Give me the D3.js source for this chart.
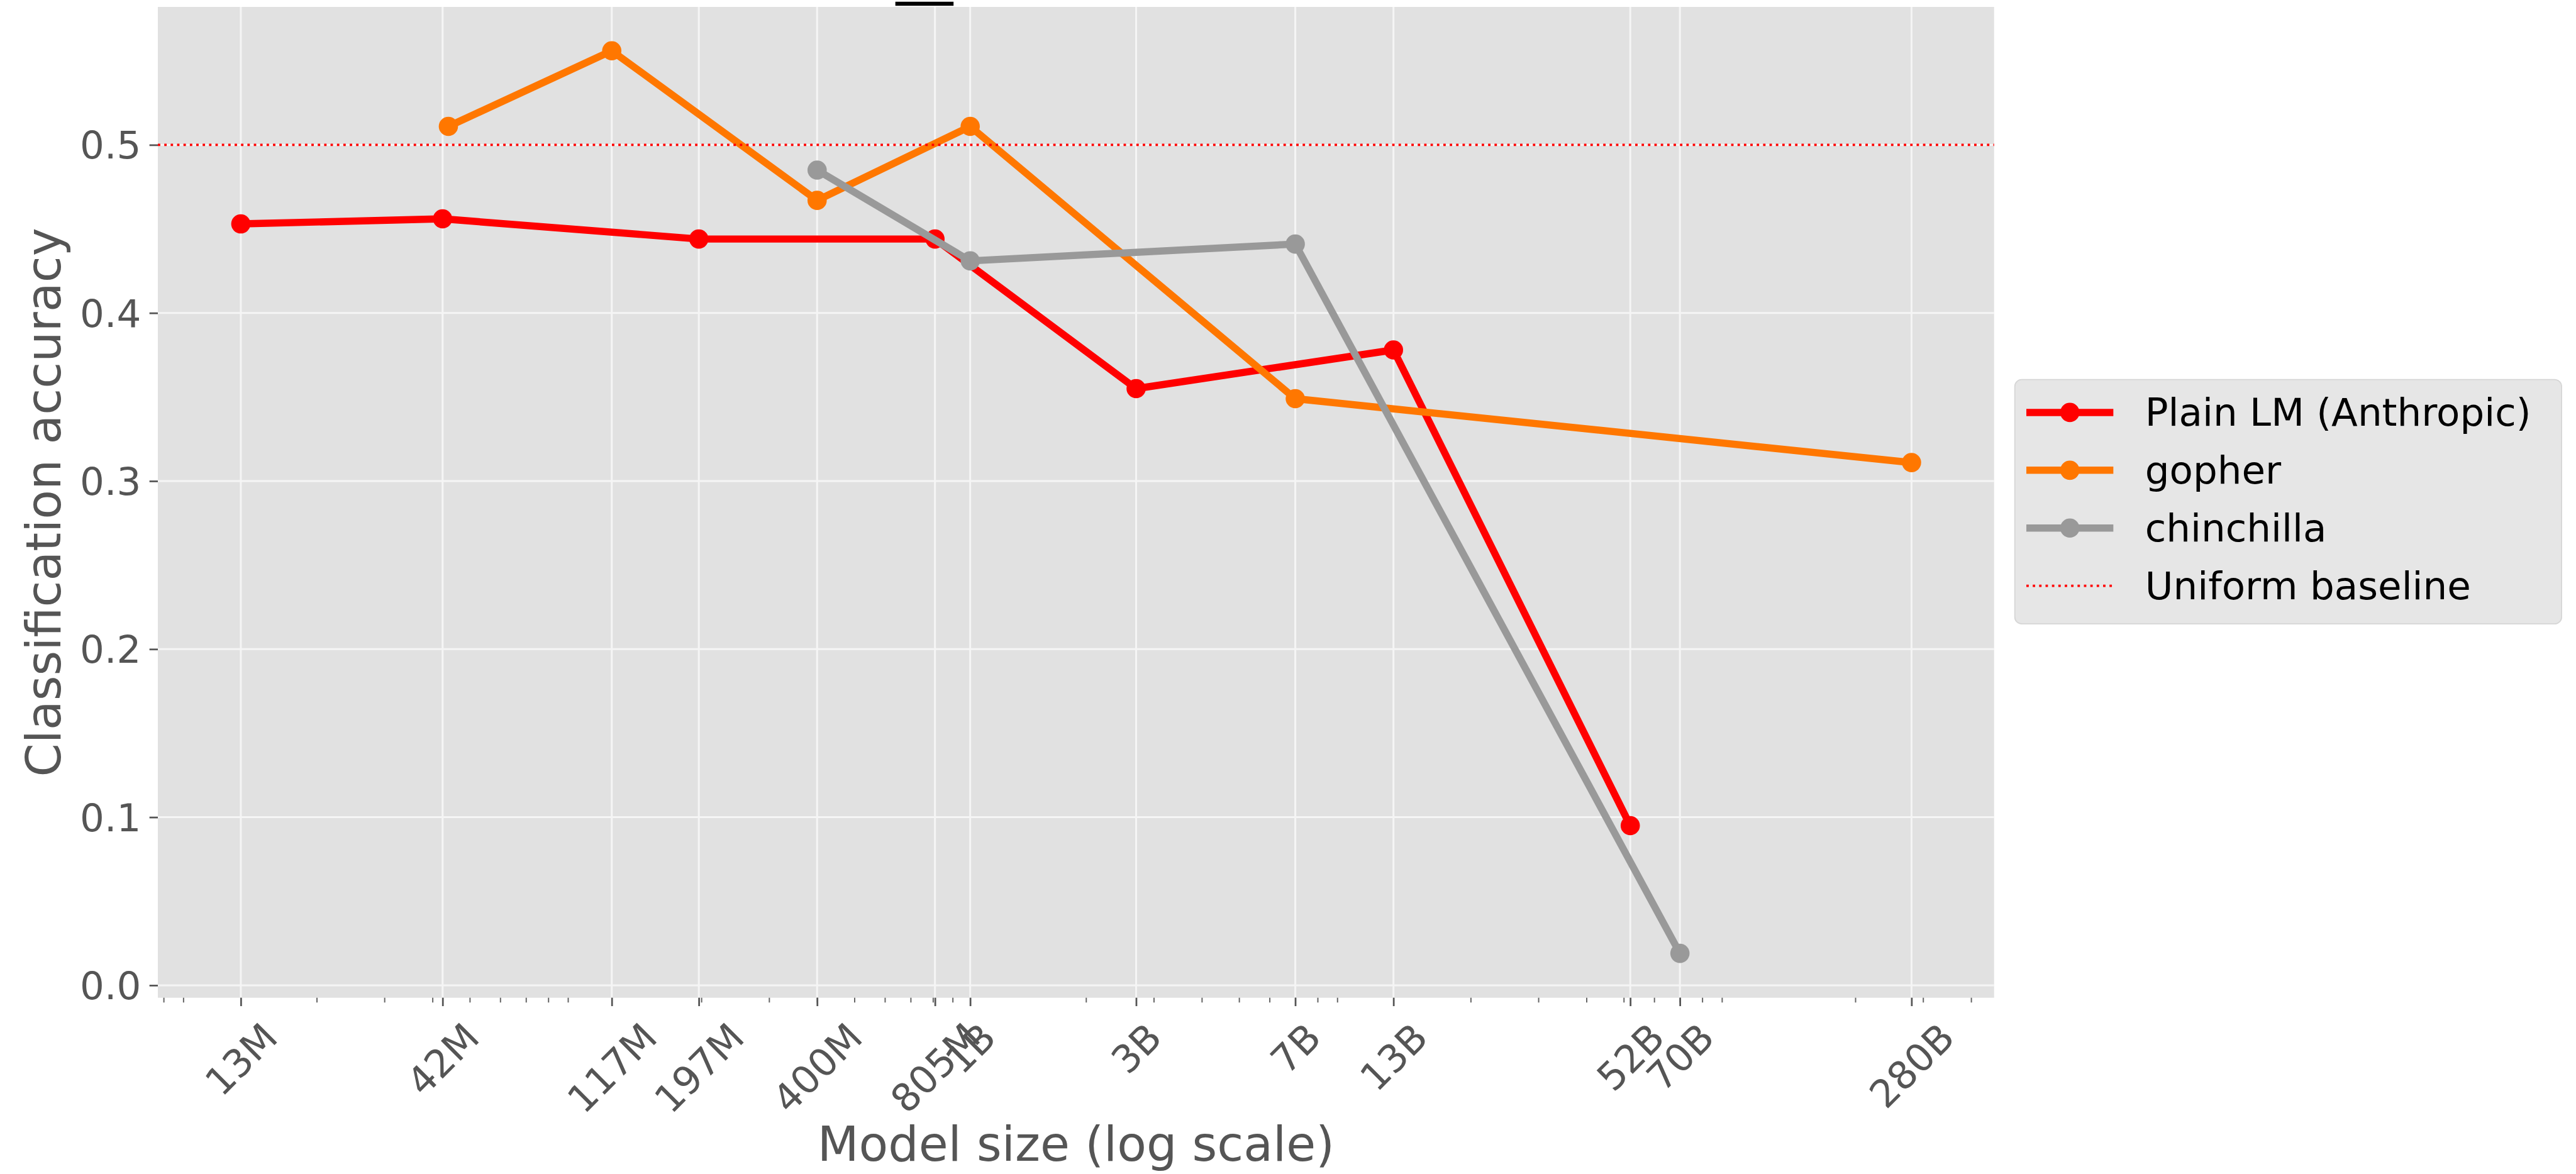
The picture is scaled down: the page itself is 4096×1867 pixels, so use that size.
<!DOCTYPE html>
<html>
<head>
<meta charset="utf-8">
<script src="https://cdn.jsdelivr.net/npm/d3@7"></script>
<style>
html, body { margin: 0; padding: 0; background: #fff; }
svg { display: block; font-family: "DejaVu Sans", sans-serif; }
</style>
</head>
<body>
<div id="chart"></div>
<script>
// model sizes (parameter count) and classification accuracy per family
var anthropicSizes = [1.27e7, 4.25e7, 1.97e8, 8.1e8, 2.7e9, 1.26e10, 5.2e10];
var anthropicAcc   = [0.453, 0.456, 0.444, 0.444, 0.355, 0.378, 0.095];

var gopherSizes = [4.4e7, 1.17e8, 4.0e8, 1.0e9, 7.0e9, 2.8e11];
var gopherAcc   = [0.511, 0.556, 0.467, 0.511, 0.349, 0.311];

var chinchillaSizes = [4.0e8, 1.0e9, 7.0e9, 7.0e10];
var chinchillaAcc   = [0.485, 0.431, 0.441, 0.019];

var baselineAcc = 0.5;

var seriesNames  = ["Plain LM (Anthropic)", "gopher", "chinchilla"];
var seriesColors = ["#ff0000", "#ff7700", "#999999"];
var baselineName = "Uniform baseline";

var xTickValues = [1.27e7, 4.25e7, 1.17e8, 1.97e8, 4.0e8, 8.1e8, 1.0e9, 2.7e9, 7.0e9, 1.26e10, 5.2e10, 7.0e10, 2.8e11];
var xTickLabels = ["13M", "42M", "117M", "197M", "400M", "805M", "1B", "3B", "7B", "13B", "52B", "70B", "280B"];
var yTickValues = [0, 0.1, 0.2, 0.3, 0.4, 0.5];

// everything is laid out in the reference's pixel space, viewBox scales it down
var W = 4471, H = 2038;
var plotL = 274, plotR = 3461, plotT = 12, plotB = 1732;
var tickFont = 66.7, labelFont = 83.3;

var svg = d3.select("#chart")
    .append("svg")
    .attr("width", 4096)
    .attr("height", 1867)
    .attr("viewBox", "0 0 " + W + " " + H)
    .attr("preserveAspectRatio", "none");

svg.append("rect").attr("width", W).attr("height", H).attr("fill", "#fff");

var x = d3.scaleLog()
    .domain([7.73e6, 4.59e11])
    .range([plotL, plotR]);

var y = d3.scaleLinear()
    .domain([-0.0074, 0.5821])
    .range([plotB, plotT]);

// plot background
svg.append("rect")
    .attr("x", plotL).attr("y", plotT)
    .attr("width", plotR - plotL).attr("height", plotB - plotT)
    .attr("fill", "#e1e1e1");

// grid
var grid = svg.append("g").attr("stroke", "#f5f5f5").attr("stroke-width", 3.3);
grid.selectAll("line.v").data(xTickValues).enter().append("line")
    .attr("class", "v")
    .attr("x1", function(d) { return x(d); }).attr("x2", function(d) { return x(d); })
    .attr("y1", plotT).attr("y2", plotB);
grid.selectAll("line.h").data(yTickValues).enter().append("line")
    .attr("class", "h")
    .attr("x1", plotL).attr("x2", plotR)
    .attr("y1", function(d) { return y(d); }).attr("y2", function(d) { return y(d); });

// minor ticks on the log axis (2..9 x 10^k)
var minorTicks = x.ticks().filter(function(d) {
    var m = Math.round(d / Math.pow(10, Math.floor(Math.log10(d) + 1e-9)));
    return m !== 1;
});

var xMinor = svg.append("g")
    .attr("transform", "translate(0," + plotB + ")")
    .call(d3.axisBottom(x).tickValues(minorTicks).tickFormat("").tickSize(8.3));
xMinor.select(".domain").remove();
xMinor.selectAll("line").attr("stroke", "#666").attr("stroke-width", 2.2);

var xAxis = svg.append("g")
    .attr("transform", "translate(0," + plotB + ")")
    .call(d3.axisBottom(x)
        .tickValues(xTickValues)
        .tickFormat(function(d, i) { return xTickLabels[i]; })
        .tickSize(14.6));
xAxis.select(".domain").remove();
xAxis.selectAll("line").attr("stroke", "#555").attr("stroke-width", 3);
xAxis.selectAll("text")
    .attr("fill", "#555")
    .attr("font-size", tickFont)
    .attr("font-family", "DejaVu Sans")
    .attr("y", null).attr("dy", null)
    .attr("text-anchor", "middle")
    .attr("dominant-baseline", "central")
    .attr("transform", function() {
        var tw = this.getComputedTextLength();
        var th = 1.164 * tickFont;
        var off = 14.6 + 14.6 + (tw + th) * Math.SQRT1_2 / 2;
        return "translate(0," + off + ") rotate(-45)";
    });

var yAxis = svg.append("g")
    .attr("transform", "translate(" + plotL + ",0)")
    .call(d3.axisLeft(y)
        .tickValues(yTickValues)
        .tickFormat(d3.format(".1f"))
        .tickSize(14.6)
        .tickPadding(14.6));
yAxis.select(".domain").remove();
yAxis.selectAll("line").attr("stroke", "#555").attr("stroke-width", 3);
yAxis.selectAll("text")
    .attr("fill", "#555")
    .attr("font-size", tickFont)
    .attr("font-family", "DejaVu Sans")
    .attr("dy", null)
    .attr("dominant-baseline", "central");

// series
var series = [
    { name: seriesNames[0], color: seriesColors[0], sizes: anthropicSizes, acc: anthropicAcc },
    { name: seriesNames[1], color: seriesColors[1], sizes: gopherSizes, acc: gopherAcc },
    { name: seriesNames[2], color: seriesColors[2], sizes: chinchillaSizes, acc: chinchillaAcc }
];

var line = d3.line()
    .x(function(d) { return x(d[0]); })
    .y(function(d) { return y(d[1]); });

var lineW = 12.5, markerR = 16.7;

series.forEach(function(s) {
    var pts = s.sizes.map(function(v, i) { return [v, s.acc[i]]; });
    var g = svg.append("g");
    g.append("path")
        .attr("d", line(pts))
        .attr("fill", "none")
        .attr("stroke", s.color)
        .attr("stroke-width", lineW)
        .attr("stroke-linejoin", "round")
        .attr("stroke-linecap", "square");
    g.selectAll("circle").data(pts).enter().append("circle")
        .attr("cx", function(d) { return x(d[0]); })
        .attr("cy", function(d) { return y(d[1]); })
        .attr("r", markerR)
        .attr("fill", s.color);
});

// uniform baseline
svg.append("line")
    .attr("x1", plotL).attr("x2", plotR)
    .attr("y1", y(baselineAcc)).attr("y2", y(baselineAcc))
    .attr("stroke", "#ff0000")
    .attr("stroke-width", 4.2)
    .attr("stroke-dasharray", "4.2,6.9");

// axis labels
svg.append("text")
    .attr("x", (plotL + plotR) / 2)
    .attr("y", 2015)
    .attr("text-anchor", "middle")
    .attr("font-size", labelFont)
    .attr("fill", "#555")
    .text("Model size (log scale)");

svg.append("text")
    .attr("transform", "translate(105," + (plotT + plotB) / 2 + ") rotate(-90)")
    .attr("text-anchor", "middle")
    .attr("font-size", labelFont)
    .attr("fill", "#555")
    .text("Classification accuracy");

// small dark bar cut off at the top edge
svg.append("rect")
    .attr("x", 1554).attr("y", 3)
    .attr("width", 101).attr("height", 7)
    .attr("fill", "#000");

// legend
var legend = svg.append("g").attr("transform", "translate(3497,659)");
legend.append("rect")
    .attr("width", 949).attr("height", 424)
    .attr("rx", 12)
    .attr("fill", "#e6e6e6")
    .attr("stroke", "#d6d6d6")
    .attr("stroke-width", 2);

var items = series.map(function(s) { return { name: s.name, color: s.color, dotted: false }; });
items.push({ name: baselineName, color: "#ff0000", dotted: true });

var rowY = d3.scalePoint().domain(d3.range(items.length)).range([57, 358]);

items.forEach(function(it, i) {
    var gy = rowY(i);
    var row = legend.append("g").attr("transform", "translate(0," + gy + ")");
    if (it.dotted) {
        row.append("line")
            .attr("x1", 20).attr("x2", 171)
            .attr("stroke", it.color)
            .attr("stroke-width", 4.2)
            .attr("stroke-dasharray", "4.2,6.9");
    } else {
        row.append("line")
            .attr("x1", 20).attr("x2", 171)
            .attr("stroke", it.color)
            .attr("stroke-width", lineW);
        row.append("circle")
            .attr("cx", 95.5).attr("r", markerR)
            .attr("fill", it.color);
    }
    row.append("text")
        .attr("x", 226)
        .attr("dominant-baseline", "central")
        .attr("font-size", tickFont)
        .attr("fill", "#000")
        .text(it.name);
});
</script>
</body>
</html>
